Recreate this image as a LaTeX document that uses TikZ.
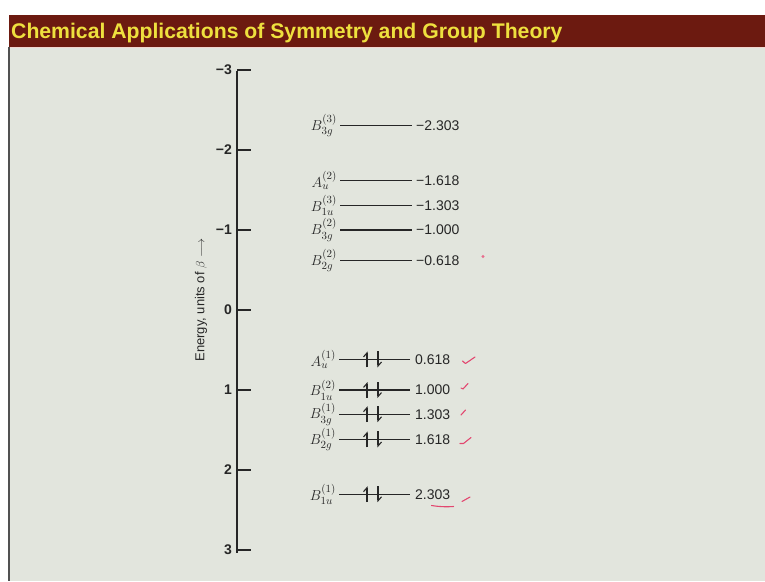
\documentclass[tikz,border=0pt]{standalone}
\usepackage{fontspec}
\setsansfont{Liberation Sans}
\usepackage{amsmath}
\usetikzlibrary{positioning,arrows.meta}
\definecolor{BarRed}{RGB}{108,26,16}
\definecolor{TitleYellow}{RGB}{238,224,62}
\definecolor{SlideBg}{RGB}{226,229,221}
\definecolor{RuleLine}{RGB}{242,214,208}
\definecolor{InkGray}{RGB}{38,38,38}
\definecolor{PenRed}{RGB}{226,72,112}

\begin{document}
\begin{tikzpicture}[x=1pt,y=-1pt,
lvl/.style={draw=InkGray,line width=1.2pt},
axis/.style={draw=InkGray,line width=1.6pt},
sym/.style={inner sep=0pt,text=InkGray,font=\fontsize{15}{17}\selectfont},
val/.style={inner sep=1pt,text=InkGray,font=\sffamily\fontsize{14}{16}\selectfont},
tick/.style={inner sep=1pt,text=InkGray,font=\sffamily\bfseries\fontsize{14}{16}\selectfont},
spin/.style={draw=InkGray,line width=1.1pt,-{Straight Barb[left,length=4pt,width=7pt]}},
pen/.style={draw=PenRed,line width=1.1pt,line cap=round,line join=round}
]
\useasboundingbox (0,0) rectangle (765,581);
% slide frame and title bar
\fill[white] (0,0) rectangle (765,581);
\fill[SlideBg] (9,47) rectangle (765,581);
\fill[BarRed] (9,15) rectangle (765,46.5);
\draw[RuleLine,line width=1.6pt] (9,47.5) -- (765,47.5);
\draw[InkGray!80,line width=1.2pt] (9,47) -- (9,581);
\node[anchor=base west,inner sep=0pt,text=TitleYellow,font=\sffamily\bfseries\fontsize{21.2}{23}\selectfont] (title) at (11,38.5) {Chemical Applications of Symmetry and Group Theory};

% energy axis
\coordinate (atop) at (237,71);
\coordinate (abot) at (237,553);
\draw[axis] (atop) -- (abot);
\foreach \t/\lab [count=\k] in {-3/−3,-2/−2,-1/−1,0/0,1/1,2/2,3/3}{
  \coordinate (ta\k) at (237,{310+80*(\t)});
  \coordinate (tb\k) at (251,{310+80*(\t)});
  \draw[axis,line width=1.2pt] (ta\k) -- (tb\k);
  \node[tick,left=4pt of ta\k] (tl\k) {\lab};
}
\node[rotate=90,inner sep=0pt,text=InkGray,font=\sffamily\fontsize{13}{15}\selectfont] (elab) at (201,300) {Energy, units of $\beta$ $\longrightarrow$};

% empty levels
\foreach \e/\sym/\val [count=\i] in {-2.303/B^{(3)}_{3g}/−2.303,-1.618/A^{(2)}_{u}/−1.618,-1.303/B^{(3)}_{1u}/−1.303,-1.000/B^{(2)}_{3g}/−1.000,-0.618/B^{(2)}_{2g}/−0.618}{
  \coordinate (ea\i) at (340,{310+80*(\e)});
  \coordinate (eb\i) at (412,{310+80*(\e)});
  \draw[lvl] (ea\i) -- (eb\i);
  \node[sym,left=3pt of ea\i] (es\i) {$\sym$};
  \node[val,right=3pt of eb\i] (ev\i) {\val};
}
% filled levels, two spins each
\foreach \e/\sym/\val [count=\i] in {0.618/A^{(1)}_{u}/0.618,1.000/B^{(2)}_{1u}/1.000,1.303/B^{(1)}_{3g}/1.303,1.618/B^{(1)}_{2g}/1.618,2.303/B^{(1)}_{1u}/2.303}{
  \coordinate (oa\i) at (339,{310+80*(\e)});
  \coordinate (ob\i) at (410,{310+80*(\e)});
  \draw[lvl] (oa\i) -- (ob\i);
  \node[sym,left=3pt of oa\i] (os\i) {$\sym$};
  \node[val,right=4pt of ob\i] (ov\i) {\val};
  \coordinate (ua\i) at (367,{318+80*(\e)});
  \coordinate (ub\i) at (367,{302+80*(\e)});
  \coordinate (da\i) at (378,{302+80*(\e)});
  \coordinate (db\i) at (378,{318+80*(\e)});
  \draw[spin] (ua\i) -- (ub\i);
  \draw[spin] (da\i) -- (db\i);
}

% pen marks
\draw[pen] (462.5,361) -- (465.5,363.5) -- (475,357);
\draw[pen] (461,388) -- (463,389) -- (468,383.5);
\draw[pen] (461,415) -- (465.5,410);
\draw[pen] (460,443.5) -- (463.5,443.5) -- (471,437.5);
\draw[pen] (462,501.5) -- (470,497);
\draw[pen] (431.5,505.5) to[bend right=6] (453.5,506.5);
\fill[PenRed!80] (483,256.5) circle (1.6);
\end{tikzpicture}
\end{document}
